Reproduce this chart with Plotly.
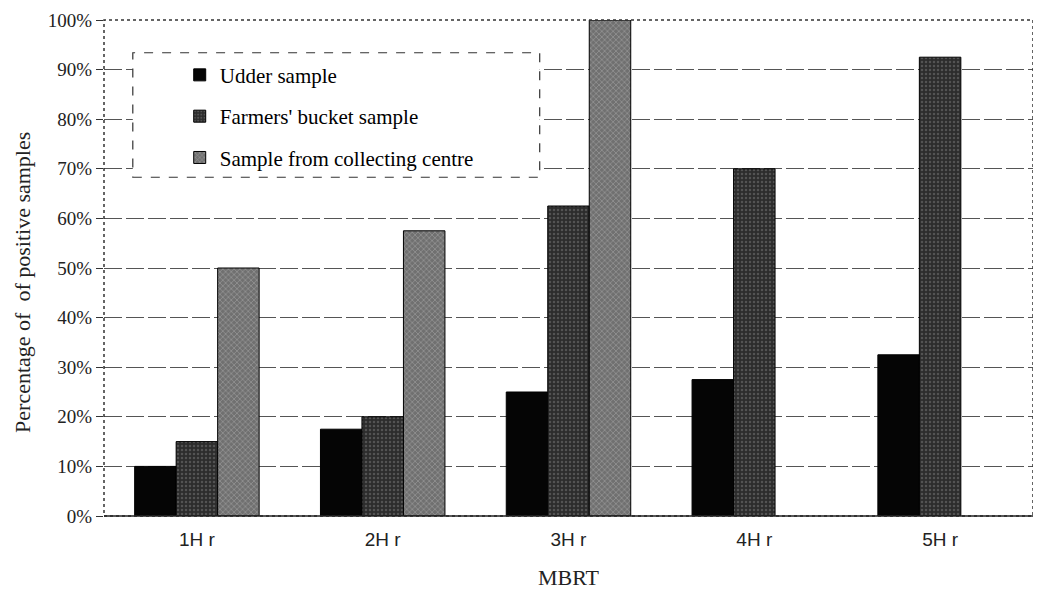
import plotly.graph_objects as go

categories = ["1H r", "2H r", "3H r", "4H r", "5H r"]
udder = [10, 17.5, 25, 27.5, 32.5]
farmers = [15, 20, 62.5, 70, 92.5]
centre = [50, 57.5, 100, None, None]
series_names = ["Udder sample", "Farmers' bucket sample", "Sample from collecting centre"]
y_ticks = [0, 10, 20, 30, 40, 50, 60, 70, 80, 90, 100]
y_labels = [f"{v}%" for v in y_ticks]
y_title = "Percentage of  of positive samples"
x_title = "MBRT"

serif = "Liberation Serif, Times New Roman, serif"
sans = "Liberation Sans, Arial, sans-serif"

fig = go.Figure()
fig.add_trace(go.Bar(
    x=categories, y=udder, name=series_names[0], legendgroup="a",
    marker=dict(color="#050505", line=dict(color="black", width=1)),
))
fig.add_trace(go.Bar(
    x=categories, y=farmers, name=series_names[1], legendgroup="b",
    marker=dict(color="#333333", line=dict(color="black", width=1),
                pattern=dict(shape=".", fgcolor="#7a7a7a", bgcolor="#2c2c2c", size=4, solidity=0.3)),
))
fig.add_trace(go.Bar(
    x=categories, y=centre, name=series_names[2], legendgroup="c",
    marker=dict(color="#8c8c8c", line=dict(color="black", width=1),
                pattern=dict(shape="x", fgcolor="#b8b8b8", bgcolor="#707070", size=4, solidity=0.35)),
))

fig.update_layout(
    width=1033, height=582,
    margin=dict(l=96, r=8, t=12, b=74),
    paper_bgcolor="white", plot_bgcolor="white",
    barmode="group", bargap=0.33, bargroupgap=0,
    showlegend=True,
    legend=dict(
        x=0.0815, y=0.93, xanchor="left", yanchor="top",
        bgcolor="rgba(0,0,0,0)", borderwidth=0,
        font=dict(family=serif, size=21, color="black"),
        traceorder="grouped", tracegroupgap=11,
        itemwidth=30,
    ),
    xaxis=dict(
        showgrid=False, showline=False, ticks="", automargin=False,
        tickfont=dict(family=sans, size=19, color="#222"),
        ticklabelstandoff=10,
        title=dict(text=x_title, font=dict(family=serif, size=22, color="#222"), standoff=22),
    ),
    yaxis=dict(
        range=[0, 100], tickvals=y_ticks, ticktext=y_labels, automargin=False,
        showgrid=True, gridcolor="#555", griddash="18px,4px", gridwidth=1,
        ticks="outside", ticklen=7, tickcolor="#333",
        showline=False, zeroline=False, ticklabeloverflow="allow",
        tickfont=dict(family=serif, size=19, color="#222"),
    ),
    annotations=[
        dict(text=y_title, textangle=-90, xref="paper", yref="paper",
             x=0, y=0.47, xanchor="center", yanchor="middle", xshift=-81, showarrow=False,
             font=dict(family=serif, size=22, color="#222")),
    ],
    shapes=[
        dict(type="rect", xref="paper", yref="paper", x0=0, x1=1, y0=0, y1=1,
             line=dict(color="#333", width=1.5, dash="dot"), layer="above"),
        dict(type="rect", xref="paper", yref="paper", x0=0.031, x1=0.469, y0=0.683, y1=0.934,
             line=dict(color="#333", width=1.2, dash="dash"), fillcolor="white", layer="above"),
        dict(type="line", xref="paper", yref="paper", x0=0, x1=1, y0=0, y1=0,
             line=dict(color="#222", width=1.5), layer="above"),
    ],
)

fig.write_html("out.html")
